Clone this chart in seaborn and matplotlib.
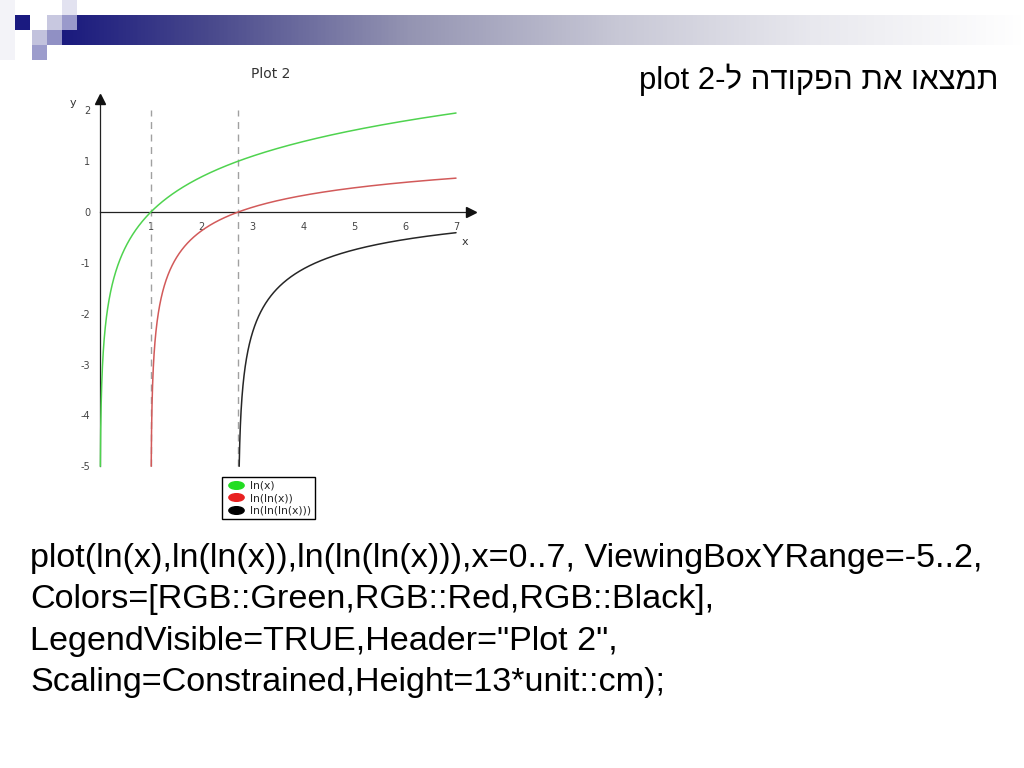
import numpy as np
import pandas as pd
import seaborn as sns
import matplotlib.pyplot as plt
from matplotlib.colors import LinearSegmentedColormap
from matplotlib.lines import Line2D
from matplotlib.patches import Rectangle
from matplotlib.path import Path

# --- data ---
x_range = (0, 7)
y_range = (-5, 2)
curve_names = ["ln(x)", "ln(ln(x))", "ln(ln(ln(x)))"]
curve_depth = [1, 2, 3]          # how many ln are nested
curve_colors = ["#4fd34f", "#d25a5a", "#262626"]
legend_colors = ["#22dd22", "#e82020", "#000000"]
asymptotes = [1, np.e]
x_ticks = [1, 2, 3, 4, 5, 6, 7]
y_ticks = [-5, -4, -3, -2, -1, 0, 1, 2]

header = "Plot 2"
hebrew_title = "תמצאו את הפקודה ל-"
command_lines = [
    "plot(ln(x),ln(ln(x)),ln(ln(ln(x))),x=0..7, ViewingBoxYRange=-5..2,",
    "Colors=[RGB::Green,RGB::Red,RGB::Black],",
    "LegendVisible=TRUE,Header=\"Plot 2\",",
    "Scaling=Constrained,Height=13*unit::cm);",
]

# curves: nested ln evaluated on 0..7, cut where they leave the y range
rows = []
for name, depth in zip(curve_names, curve_depth):
    x_start = y_range[0]
    for _ in range(depth):
        x_start = np.exp(x_start)
    t = np.linspace(0, 1, 800)
    xs = x_start + (x_range[1] - x_start) * t ** 3
    ys = xs.copy()
    for _ in range(depth):
        ys = np.log(ys)
    rows.append(pd.DataFrame({"x": xs, "y": ys, "curve": name}))
df = pd.concat(rows, ignore_index=True)

# --- figure ---
sns.set_theme(style="white")
plt.rcParams["font.family"] = ["Liberation Sans", "DejaVu Sans"]
plt.rcParams["axes.unicode_minus"] = False

W, H = 1024, 768
fig = plt.figure(figsize=(W / 100, H / 100), dpi=100)

# slide decoration (pixel coords)
bg = fig.add_axes([0, 0, 1, 1], zorder=-5)
bg.set_xlim(0, W)
bg.set_ylim(H, 0)
bg.axis("off")
grad = LinearSegmentedColormap.from_list(
    "bar", [(0, "#1a1a7e"), (0.15, "#48488c"), (0.36, "#9494b2"),
            (0.58, "#c8c8d6"), (0.78, "#e8e8ee"), (1, "#ffffff")])
bg.imshow(np.linspace(0, 1, 512)[None, :], cmap=grad, aspect="auto",
          extent=(62, W, 45, 15), zorder=1)
squares = [(0, 0, 15, 60, "#f3f3f8"), (62, 0, 15, 15, "#e2e2f0"),
           (15, 15, 15, 15, "#1a1a80"), (47, 15, 15, 15, "#c8c8e0"),
           (62, 15, 15, 15, "#9a9acb"), (32, 30, 15, 15, "#c2c2dd"),
           (47, 30, 15, 15, "#9090c4"), (32, 45, 15, 15, "#9c9ccc")]
for sx, sy, sw, sh, c in squares:
    bg.add_patch(Rectangle((sx, sy), sw, sh, color=c, lw=0, zorder=2))

# plot axes placed so that 1 unit = ~50.9 px on both axes
ppu = 50.86
ox, oy = 100, 212          # pixel position of origin
xl = (-0.6, 7.6)
yl = (-5.3, 2.5)
left = (ox + xl[0] * ppu) / W
right = (ox + xl[1] * ppu) / W
top = 1 - (oy - yl[1] * ppu) / H
bottom = 1 - (oy - yl[0] * ppu) / H
ax = fig.add_axes([left, bottom, right - left, top - bottom])
ax.set_xlim(*xl)
ax.set_ylim(*yl)
ax.patch.set_alpha(0)

for a in asymptotes:
    ax.plot([a, a], [y_range[0], y_range[1]], color="#a0a0a0", lw=1.0,
            dashes=(5, 4), zorder=1)

sns.lineplot(data=df, x="x", y="y", hue="curve", palette=curve_colors,
             hue_order=curve_names, estimator=None, sort=False,
             legend=False, lw=1.1, ax=ax, zorder=3)

for s in ["top", "right"]:
    ax.spines[s].set_visible(False)
ax.spines["left"].set_position(("data", 0))
ax.spines["bottom"].set_position(("data", 0))
ax.spines["left"].set_bounds(y_range[0], 2.25)
ax.spines["bottom"].set_bounds(0, 7.35)
for s in ["left", "bottom"]:
    ax.spines[s].set_color("#222222")
    ax.spines[s].set_linewidth(0.9)
ax.plot(0, 2.22, marker="^", color="#111111", ms=7, clip_on=False, zorder=5)
ax.plot(7.3, 0, marker=">", color="#111111", ms=7, clip_on=False, zorder=5)

ax.set_xticks(x_ticks)
ax.set_yticks(y_ticks)
ax.set_xticks(np.arange(0.5, 7.5, 1), minor=True)
ax.set_yticks(np.arange(-4.5, 2, 1), minor=True)
ax.set_xticklabels([str(v) for v in x_ticks])
ax.set_yticklabels([str(v) for v in y_ticks])
ax.tick_params(which="major", direction="inout", length=8, width=0.8,
               color="#222222", labelsize=7, labelcolor="#444444", pad=3)
ax.tick_params(which="minor", direction="inout", length=5, width=0.8,
               color="#222222")
ax.set_xlabel("")
ax.set_ylabel("")
ax.text(-0.53, 2.14, "y", fontsize=8, color="#333333", ha="center",
        va="center", family="DejaVu Sans")
ax.text(7.18, -0.59, "x", fontsize=8, color="#333333", ha="center",
        va="center", family="DejaVu Sans")
for lab in ax.get_xticklabels() + ax.get_yticklabels():
    lab.set_family("DejaVu Sans")

fig.text(271 / W, 1 - 74 / H, header, fontsize=10, color="#333333",
         ha="center", va="center", family="DejaVu Sans")

# legend with small filled ellipses as keys
circ = Path.unit_circle()
ellipse = Path(circ.vertices * [1.0, 0.5], circ.codes)
handles = [Line2D([0], [0], ls="none", marker=ellipse, ms=11,
                  markerfacecolor=c, markeredgecolor=c)
           for c in legend_colors]
leg = fig.legend(handles, curve_names, loc="upper left",
                 bbox_to_anchor=(222 / W, 1 - 477 / H),
                 frameon=True, fancybox=False, framealpha=1,
                 edgecolor="#000000", handlelength=1.9, handletextpad=0.35,
                 labelspacing=0.22, borderpad=0.35, borderaxespad=0,
                 prop={"family": "DejaVu Sans", "size": 7.8})
leg.get_frame().set_linewidth(1.0)

# slide texts
fig.text(998 / W, 1 - 89 / H, "plot 2" + hebrew_title[::-1], fontsize=22.4,
         ha="right", va="baseline", color="black")
for i, line in enumerate(command_lines):
    fig.text(30 / W, 1 - (567 + i * 41.3) / H, line, fontsize=24.6,
             ha="left", va="baseline", color="black")

fig.savefig("out.png", dpi=100)
